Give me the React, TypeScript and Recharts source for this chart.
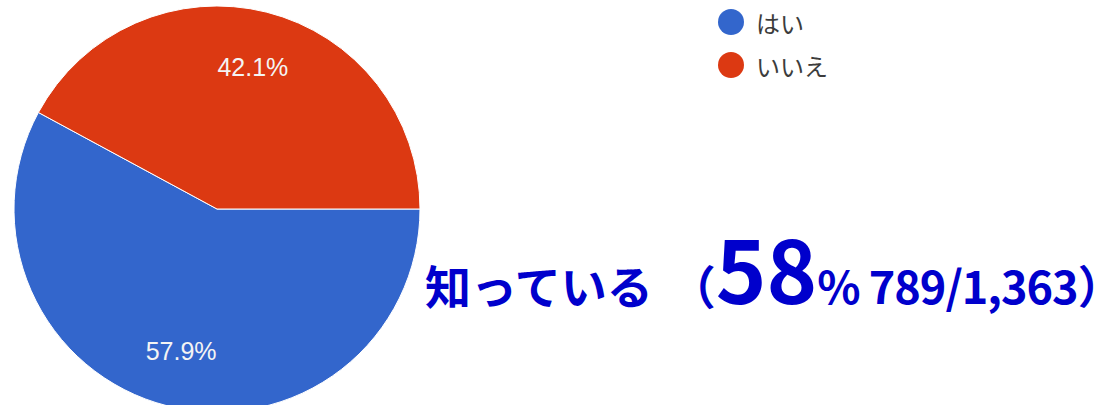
import React from 'react';
import { PieChart, Pie, Cell } from 'recharts';

const categories = ['はい', 'いいえ'];
const counts = [789, 574];
const colors = ['#3366CC', '#DC3912'];

const headline = '知っている';
const headlineParen = '（';
const headlinePct = '58';
const headlineRest = '% 789/1,363）';

const data = categories.map((name, i) => ({ name, value: counts[i] }));

const RADIAN = Math.PI / 180;

const renderLabel = (props: any) => {
    const { cx, cy, midAngle, outerRadius, percent } = props;
    const r = outerRadius * 0.72;
    const x = cx + r * Math.cos(-midAngle * RADIAN);
    const y = cy + r * Math.sin(-midAngle * RADIAN);
    return (
        <text
            x={x}
            y={y}
            fill="#f4f4f4"
            textAnchor="middle"
            dominantBaseline="central"
            fontSize={25}
            fontFamily="'Liberation Sans', Arial, sans-serif"
        >
            {(percent * 100).toFixed(1)}%
        </text>
    );
};

const App: React.FC = () => {
    return (
        <div style={{ position: 'absolute', left: 0, top: 0, width: 1117, height: 405, background: '#fff', overflow: 'hidden' }}>
            <PieChart width={1117} height={405} margin={{ top: 0, right: 0, bottom: 0, left: 0 }}>
                <Pie
                    data={data}
                    dataKey="value"
                    nameKey="name"
                    cx={217}
                    cy={209}
                    outerRadius={203}
                    startAngle={0}
                    endAngle={-360}
                    stroke="#ffffff"
                    strokeWidth={1}
                    label={renderLabel}
                    labelLine={false}
                    isAnimationActive={false}
                >
                    {data.map((d, i) => (
                        <Cell key={d.name} fill={colors[i]} />
                    ))}
                </Pie>
            </PieChart>
            <svg width={1117} height={405} style={{ position: 'absolute', left: 0, top: 0, pointerEvents: 'none' }}>
                {categories.map((c, i) => (
                    <g key={c}>
                        <circle cx={731} cy={22 + i * 43} r={13} fill={colors[i]} />
                        <text
                            x={756}
                            y={22 + i * 43}
                            dominantBaseline="central"
                            fontSize={24}
                            fill="#3c3c3c"
                            fontFamily="'Noto Sans CJK JP', sans-serif"
                        >
                            {c}
                        </text>
                    </g>
                ))}
                <text
                    x={425}
                    y={304}
                    fill="#0000CC"
                    fontWeight="bold"
                    fontFamily="'Noto Sans CJK JP', sans-serif"
                >
                    <tspan fontSize={46}>{headline}</tspan>
                    <tspan fontSize={46} dx={17}>{headlineParen}</tspan>
                    <tspan fontSize={86}>{headlinePct}</tspan>
                    <tspan fontSize={45} letterSpacing={-1}>{headlineRest}</tspan>
                </text>
            </svg>
        </div>
    );
};

export default App;
